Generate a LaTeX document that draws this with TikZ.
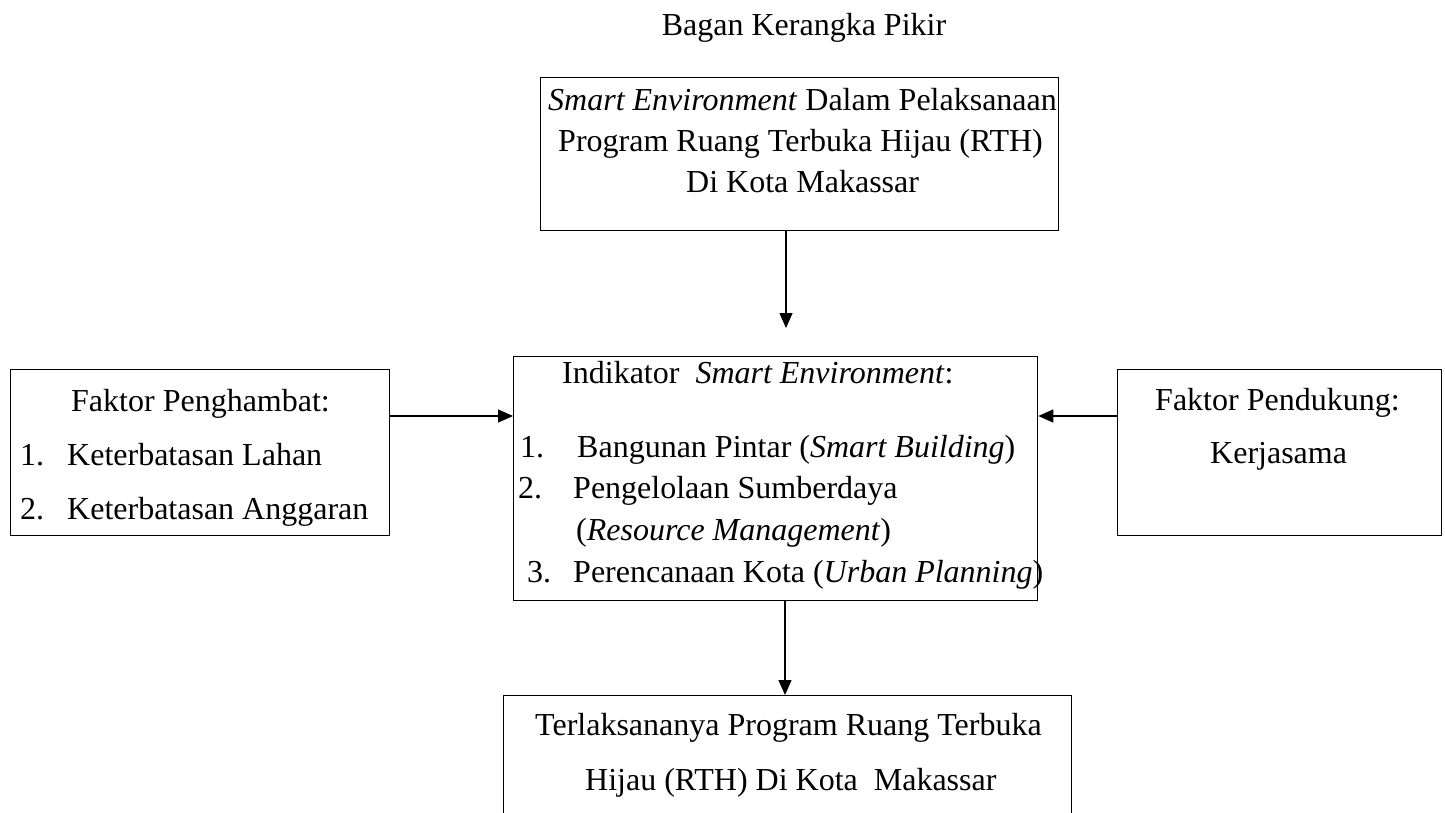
\documentclass[tikz,border=0pt]{standalone}
\usepackage{fontspec}
\setmainfont{Liberation Serif}
\usetikzlibrary{arrows.meta}
\begin{document}
\begin{tikzpicture}[x=1pt,y=-1pt,
  box/.style={draw, line width=1.3pt, rectangle, inner sep=0pt, anchor=north west},
  txt/.style={inner sep=0pt, anchor=base west, font=\fontsize{32}{38}\selectfont},
  ctxt/.style={txt, anchor=base},
  arr/.style={line width=1.3pt, -{Triangle[length=15pt,width=13pt]}}]
\useasboundingbox (0,0) rectangle (1445,812);
% boxes
\node[box, minimum width=518pt, minimum height=153pt] (top) at (540,77) {};
\node[box, minimum width=379pt, minimum height=166pt] (left) at (10,369) {};
\node[box, minimum width=524pt, minimum height=244pt] (center) at (513,356) {};
\node[box, minimum width=324pt, minimum height=166pt] (right) at (1117,369) {};
\node[box, minimum width=568pt, minimum height=140pt] (bottom) at (503,695) {};
% title
\node[ctxt] (title) at (804,35) {Bagan Kerangka Pikir};
% top box text
\node[txt] (t1) at (548,110) {\textit{Smart Environment} Dalam Pelaksanaan};
\node[txt] (t2) at (558,151) {Program Ruang Terbuka Hijau (RTH)};
\node[txt] (t3) at (686,192) {Di Kota Makassar};
% left box text
\node[txt] (l0) at (71,411) {Faktor Penghambat:};
\node[txt] (l1n) at (20,465) {1.};
\node[txt] (l1) at (67,465) {Keterbatasan Lahan};
\node[txt] (l2n) at (20,519) {2.};
\node[txt] (l2) at (67,519) {Keterbatasan Anggaran};
% right box text
\node[txt] (r0) at (1155,410) {Faktor Pendukung:};
\node[txt] (r1) at (1210,463) {Kerjasama};
% center box text
\node[txt] (c0) at (562,383) {Indikator~~\textit{Smart Environment}:};
\node[txt] (c1n) at (520,457) {1.};
\node[txt] (c1) at (577,457) {Bangunan Pintar (\textit{Smart Building})};
\node[txt] (c2n) at (518,498) {2.};
\node[txt] (c2) at (573,498) {Pengelolaan Sumberdaya};
\node[txt] (c2b) at (576,540) {(\textit{Resource Management})};
\node[txt] (c3n) at (527,582) {3.};
\node[txt] (c3) at (573,582) {Perencanaan Kota (\textit{Urban Planning})};
% bottom box text
\node[txt] (b1) at (535,735) {Terlaksananya Program Ruang Terbuka};
\node[txt] (b2) at (585,790) {Hijau (RTH) Di Kota~~Makassar};
% connectors
\coordinate (a1) at (786,328);
\draw[arr] (a1 |- top.south) -- (a1);
\coordinate (lr) at (0,416);
\draw[arr] (left.east |- lr) -- (center.west |- lr);
\draw[arr] (right.west |- lr) -- (center.east |- lr);
\coordinate (bx) at (785,0);
\draw[arr] (center.south -| bx) -- (bottom.north -| bx);
\end{tikzpicture}
\end{document}
